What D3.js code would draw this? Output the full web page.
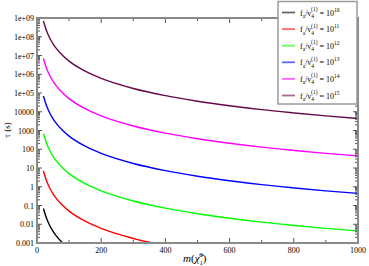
<!DOCTYPE html>
<html>
<head>
<meta charset="utf-8">
<script src="https://cdn.jsdelivr.net/npm/d3@7"></script>
<style>
html,body{margin:0;padding:0;background:#fff;}
svg{display:block;font-family:"Liberation Serif","DejaVu Serif",serif;}
</style>
</head>
<body>
<svg id="chart" width="369" height="266"></svg>
<script>
// ---- data ----
const masses = [20, 30, 40, 50, 60, 80, 100, 150, 200, 300, 400, 500, 600, 700, 800, 900, 1000];
const tau_1e15 = [6.9e8, 2.0e8, 8.3e7, 4.2e7, 2.4e7, 1.0e7, 5.0e6, 1.45e6, 6.0e5, 1.74e5, 7.2e4, 3.65e4, 2.1e4, 1.3e4, 8.7e3, 6.0e3, 4.4e3];
const tau_1e14 = [6.9e6, 2.0e6, 8.3e5, 4.2e5, 2.4e5, 1.0e5, 5.0e4, 1.45e4, 6.0e3, 1.74e3, 720, 365, 210, 130, 87, 60, 44];
const tau_1e13 = [6.9e4, 2.0e4, 8300, 4200, 2400, 1000, 500, 145, 60, 17.4, 7.2, 3.65, 2.1, 1.3, 0.87, 0.60, 0.44];
const tau_1e12 = [690, 200, 83, 42, 24, 10, 5.0, 1.45, 0.60, 0.174, 0.072, 0.0365, 0.021, 0.013, 0.0087, 0.0060, 0.0044];
const tau_1e11 = [6.9, 2.0, 0.83, 0.42, 0.24, 0.10, 0.050, 0.0145, 0.0060, 0.00174, 0.00072];
const tau_1e10 = [0.069, 0.020, 0.0083, 0.0042, 0.0024, 0.0010, 0.00050];
const seriesExps = ["10", "11", "12", "13", "14", "15"];
const seriesColors = ["#000000", "#ff0000", "#00ff00", "#0000ff", "#ff00ff", "#670748"];
const seriesValues = [tau_1e10, tau_1e11, tau_1e12, tau_1e13, tau_1e14, tau_1e15];
const xTicks = [0, 200, 400, 600, 800, 1000];
const xMinorTicks = [100, 300, 500, 700, 900];
const yTickLabels = ["0.001", "0.01", "0.1", "1", "10", "100", "1000", "10000", "1e+05", "1e+06", "1e+07", "1e+08", "1e+09"];
const yTickValues = [1e-3, 1e-2, 1e-1, 1, 10, 100, 1e3, 1e4, 1e5, 1e6, 1e7, 1e8, 1e9];

// ---- layout ----
const svg = d3.select("#chart");
const L = 37, R = 358, T = 18, B = 243;
const x = d3.scaleLinear().domain([0, 1000]).range([L, R]);
const y = d3.scaleLog().domain([1e-3, 1e9]).range([B, T]);

svg.append("defs").append("clipPath").attr("id", "clip")
  .append("rect").attr("x", L).attr("y", T).attr("width", R - L).attr("height", B - T);

// curves
const line = d3.line().x(d => x(d[0])).y(d => y(d[1])).curve(d3.curveMonotoneX);
const gCurves = svg.append("g").attr("clip-path", "url(#clip)");
seriesValues.forEach((vals, i) => {
  const pts = vals.map((v, j) => [masses[j], v]);
  gCurves.append("path").attr("d", line(pts))
    .attr("fill", "none").attr("stroke", seriesColors[i]).attr("stroke-width", 1.4);
});

// minor y ticks
const yMinor = [];
for (let e = -3; e < 9; e++) for (let k = 2; k <= 9; k++) yMinor.push(k * Math.pow(10, e));

const tickCol = "#555";
const gTicks = svg.append("g").attr("stroke", tickCol).attr("stroke-width", 1);
yTickValues.forEach(v => {
  gTicks.append("line").attr("x1", L).attr("x2", L + 5).attr("y1", y(v)).attr("y2", y(v));
  gTicks.append("line").attr("x1", R).attr("x2", R - 5).attr("y1", y(v)).attr("y2", y(v));
});
yMinor.forEach(v => {
  gTicks.append("line").attr("x1", L).attr("x2", L + 3).attr("y1", y(v)).attr("y2", y(v));
  gTicks.append("line").attr("x1", R).attr("x2", R - 3).attr("y1", y(v)).attr("y2", y(v));
});
xTicks.forEach(v => {
  gTicks.append("line").attr("x1", x(v)).attr("x2", x(v)).attr("y1", B).attr("y2", B - 5);
  gTicks.append("line").attr("x1", x(v)).attr("x2", x(v)).attr("y1", T).attr("y2", T + 5);
});
xMinorTicks.forEach(v => {
  gTicks.append("line").attr("x1", x(v)).attr("x2", x(v)).attr("y1", B).attr("y2", B - 3);
  gTicks.append("line").attr("x1", x(v)).attr("x2", x(v)).attr("y1", T).attr("y2", T + 3);
});

// frame
svg.append("rect").attr("x", L).attr("y", T).attr("width", R - L).attr("height", B - T)
  .attr("fill", "none").attr("stroke", "#8a8a8a").attr("stroke-width", 2);

// tick labels
const gLab = svg.append("g").attr("font-size", 8).attr("fill", "#000");
yTickValues.forEach((v, i) => {
  gLab.append("text").attr("x", L - 3).attr("y", y(v) + 3).attr("text-anchor", "end").text(yTickLabels[i]);
});
xTicks.forEach(v => {
  gLab.append("text").attr("x", x(v)).attr("y", 253).attr("text-anchor", "middle").text(String(v));
});

// axis titles
svg.append("text").attr("transform", "translate(10,130) rotate(-90)")
  .attr("text-anchor", "middle").attr("font-size", 9).text("τ (s)");

const xt = svg.append("text").attr("x", 183).attr("y", 262).attr("font-size", 11);
xt.append("tspan").attr("font-style", "italic").text("m");
xt.append("tspan").text("(");
xt.append("tspan").attr("font-style", "italic").text("χ\u0303");
xt.append("tspan").attr("font-size", 7).attr("dy", 2.5).text("1");
xt.append("tspan").attr("font-size", 7).attr("dx", -3.6).attr("dy", -8).text("0");
xt.append("tspan").attr("dy", 5.5).text(")");

// legend
const lg = svg.append("g");
lg.append("rect").attr("x", 278).attr("y", 1.5).attr("width", 79).attr("height", 102.5)
  .attr("fill", "#fff").attr("stroke", "#9a9a9a").attr("stroke-width", 1.5);
seriesExps.forEach((ex, i) => {
  const yy = 12.5 + i * 16.6;
  lg.append("line").attr("x1", 282).attr("x2", 295).attr("y1", yy).attr("y2", yy)
    .attr("stroke", seriesColors[i]).attr("stroke-width", 1.8).attr("stroke-opacity", 0.6);
  const t = lg.append("text").attr("x", 300).attr("y", yy + 3).attr("font-size", 8);
  t.append("tspan").text("f");
  t.append("tspan").attr("font-size", 5.5).attr("dy", 2.5).text("a");
  t.append("tspan").attr("dy", -2.5).text("/v");
  t.append("tspan").attr("font-size", 5.5).attr("dy", 2.5).text("4");
  t.append("tspan").attr("font-size", 5.5).attr("dx", -3).attr("dy", -7).text("(1)");
  t.append("tspan").attr("dy", 4.5).text(" = 10");
  t.append("tspan").attr("font-size", 5.5).attr("dy", -4).text(ex);
});
</script>
</body>
</html>
